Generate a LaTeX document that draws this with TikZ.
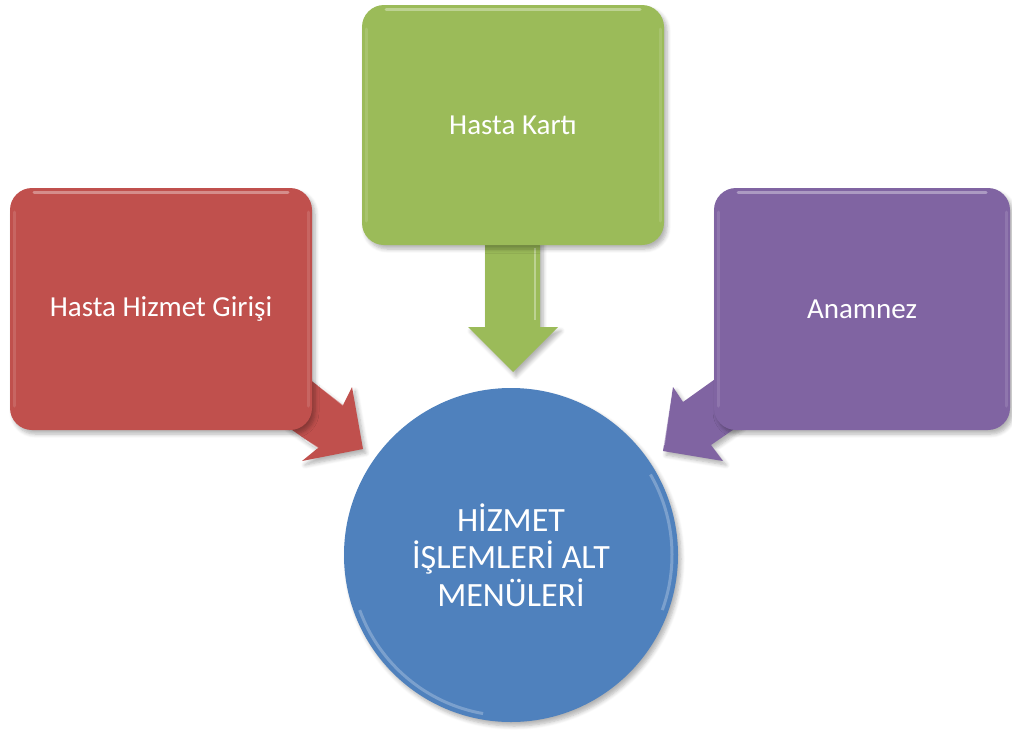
\documentclass[tikz,border=0pt]{standalone}
\usepackage{fontspec}
\setmainfont{Carlito}
\usetikzlibrary{shadows.blur}
\definecolor{redc}{HTML}{C0504D}
\definecolor{greenc}{HTML}{9BBB59}
\definecolor{purplec}{HTML}{8064A2}
\definecolor{bluec}{HTML}{4F81BD}
\begin{document}
\begin{tikzpicture}[x=1pt,y=-1pt,
  shad/.style={blur shadow={shadow xshift=3pt, shadow yshift=-4pt, shadow opacity=30, shadow blur steps=6, shadow blur radius=4pt}},
  box/.style={rectangle, rounded corners=22pt, inner sep=0pt, outer sep=0pt, text=white,
    font=\fontsize{29}{34}\selectfont, shad},
  hub/.style={circle, inner sep=0pt, outer sep=0pt, minimum size=334pt, fill=bluec, text=white,
    align=center, font=\fontsize{34}{37.5}\selectfont, shad},
  blockarrow/.style={shad},
  gloss/.style={white, opacity=.35, line width=3pt, line cap=round}
]
\useasboundingbox (0,0) rectangle (1012,731);

% block arrows (behind the boxes)
\fill[redc, blockarrow] (300,372) -- (343,405) -- (352,387) -- (363,449) -- (302,461) -- (318,448) -- (285,425) -- cycle;
\fill[purplec, blockarrow] (725,372) -- (683,402) -- (673,387) -- (663,451) -- (723,461) -- (711,445) -- (740,425) -- cycle;
\fill[greenc, blockarrow] (485,240) -- (540,240) -- (540,327) -- (558,327) -- (513,372) -- (468,327) -- (485,327) -- cycle;
\draw[white, opacity=.4, line width=1.5pt] (318,385) -- (343,405);
\draw[white, opacity=.4, line width=1.5pt] (305,440) -- (318,448);
\draw[white, opacity=.45, line width=1.5pt] (671,395) -- (664,445);
\draw[white, opacity=.35, line width=2pt] (535,248) -- (535,320);

% boxes
\node[box, fill=redc, minimum width=302pt, minimum height=242pt] (giris) at (161,309) {Hasta Hizmet Girişi};
\node[box, fill=greenc, minimum width=302pt, minimum height=240pt] (kart) at (513,125) {Hasta Kartı};
\node[box, fill=purplec, minimum width=296pt, minimum height=242pt] (anamnez) at (862,309) {Anamnez};

% gloss highlights
\foreach \b in {giris,kart,anamnez}{
  \draw[gloss] ([xshift=24pt,yshift=-4pt]\b.north west) -- ([xshift=-24pt,yshift=-4pt]\b.north east);
  \draw[gloss, opacity=.12] ([xshift=4pt,yshift=-24pt]\b.north west) -- ([xshift=4pt,yshift=24pt]\b.south west);
  \draw[gloss, opacity=.12] ([xshift=-4pt,yshift=-24pt]\b.north east) -- ([xshift=-4pt,yshift=24pt]\b.south east);
}

% central circle
\node[hub] (hub) at (511,555) {HİZMET\\İŞLEMLERİ ALT\\MENÜLERİ};
\draw[white, opacity=.25, line width=3pt] (hub.center) ++(100:161) arc[start angle=100, end angle=160, radius=161];
\draw[white, opacity=.25, line width=3pt] (hub.center) ++(-30:161) arc[start angle=-30, end angle=20, radius=161];
\end{tikzpicture}
\end{document}
